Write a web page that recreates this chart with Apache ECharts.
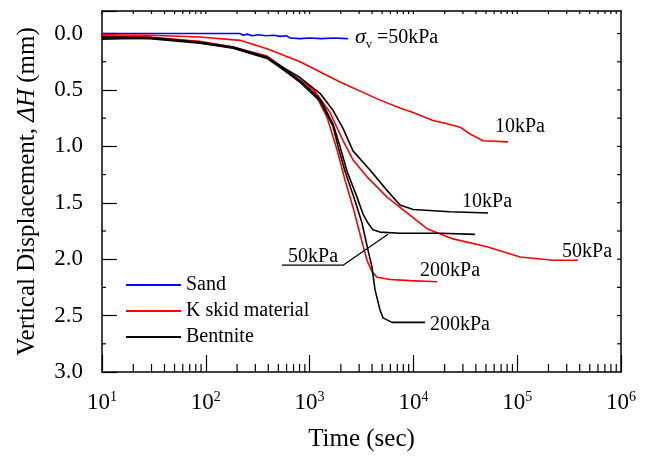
<!DOCTYPE html>
<html>
<head>
<meta charset="utf-8">
<script src="https://cdn.jsdelivr.net/npm/echarts@6/dist/echarts.min.js"></script>
<style>
html, body { margin: 0; padding: 0; background: #fff; }
#chart { width: 653px; height: 458px; }
</style>
</head>
<body>
<div id="chart"></div>
<script>
// time (sec), vertical displacement (mm)
var sand50 = [[10, 0.0], [100, 0.0], [213, 0.0], [230, 0.015], [250, 0.005], [280, 0.02], [320, 0.01],
    [380, 0.02], [450, 0.015], [520, 0.025], [600, 0.02], [650, 0.04], [800, 0.045], [1000, 0.04],
    [1300, 0.045], [1700, 0.04], [2340, 0.045]];

var kskid10 = [[10, 0.01], [29, 0.015], [88, 0.03], [213, 0.06], [389, 0.135], [808, 0.25], [1963, 0.43],
    [3818, 0.55], [4768, 0.59], [7430, 0.66], [9916, 0.70], [15450, 0.77], [21070, 0.80], [28130, 0.83],
    [35080, 0.89], [46830, 0.95], [81500, 0.96]];
var kskid50 = [[10, 0.02], [29, 0.03], [88, 0.07], [183, 0.12], [389, 0.20], [555, 0.30], [808, 0.41],
    [1080, 0.49], [1574, 0.70], [2099, 0.95], [2618, 1.12], [3573, 1.27], [5568, 1.45], [8670, 1.59],
    [13520, 1.73], [24070, 1.82], [51170, 1.89], [106500, 1.98], [221300, 2.01], [385400, 2.01]];
var kskid200 = [[10, 0.03], [29, 0.035], [88, 0.07], [183, 0.12], [389, 0.21], [555, 0.31], [808, 0.43],
    [1080, 0.50], [1470, 0.74], [1838, 1.03], [2194, 1.30], [2618, 1.54], [2926, 1.71], [3269, 1.88],
    [3573, 2.01], [3992, 2.11], [4460, 2.16], [5953, 2.18], [9275, 2.19], [16880, 2.20]];

var bent10 = [[10, 0.03], [29, 0.035], [88, 0.077], [183, 0.12], [389, 0.21], [555, 0.30], [808, 0.39],
    [1260, 0.53], [1680, 0.68], [2099, 0.84], [2618, 1.04], [3818, 1.21], [5568, 1.39], [7430, 1.52],
    [9916, 1.56], [22530, 1.58], [52360, 1.59]];
var bent50 = [[10, 0.05], [29, 0.04], [88, 0.08], [183, 0.125], [389, 0.21], [555, 0.31], [808, 0.42],
    [1260, 0.58], [1680, 0.80], [1963, 1.0], [2293, 1.22], [2862, 1.45], [3269, 1.6], [3653, 1.68],
    [4081, 1.74], [4768, 1.76], [7430, 1.77], [18050, 1.77], [39200, 1.78]];
var bent200 = [[10, 0.04], [29, 0.045], [88, 0.085], [183, 0.13], [389, 0.22], [555, 0.32], [808, 0.43],
    [1260, 0.60], [1680, 0.82], [1880, 1.0], [2194, 1.22], [2735, 1.48], [3198, 1.68], [3653, 1.92],
    [3992, 2.07], [4266, 2.27], [4768, 2.45], [5097, 2.52], [6223, 2.56], [12940, 2.56]];

var leader50 = [[542, 2.053], [2099, 2.053], [5690, 1.779]];

var legendNames = ['Sand', 'K skid material', 'Bentnite'];
var notes = [
    { name: '{s|σ}{v|v} =50kPa', value: [2740, 0.035] },
    { name: '10kPa', value: [61100, 0.823] },
    { name: '10kPa', value: [29400, 1.487] },
    { name: '50kPa', value: [270200, 1.934] },
    { name: '200kPa', value: [11580, 2.10] },
    { name: '200kPa', value: [14450, 2.58] },
    { name: '50kPa', value: [620, 1.98] }
];

var decades = [10, 100, 1000, 10000, 100000];
var steps = [2, 3, 4, 5, 6, 7, 8, 9];
var dispMinor = [0.25, 0.75, 1.25, 1.75, 2.25, 2.75];
var dispAll = [0, 0.25, 0.5, 0.75, 1.0, 1.25, 1.5, 1.75, 2.0, 2.25, 2.5, 2.75];

var font = '"Liberation Serif", "Times New Roman", serif';

// tick marks: [x, y, dx, dy]
var tickData = [];
decades.forEach(function (d) {
    steps.forEach(function (s) {
        tickData.push([d * s, 3.0, 0, -8]);
        tickData.push([d * s, -0.2, 0, 3]);
    });
    tickData.push([d, -0.2, 0, 3]);
});
dispMinor.forEach(function (v) { tickData.push([10, v, 4, 0]); });
dispAll.forEach(function (v) { tickData.push([1000000, v, -4, 0]); });

function lineSeries(name, data, color) {
    return {
        name: name, type: 'line', data: data, symbol: 'none', showSymbol: false,
        lineStyle: { color: color, width: 1.6 }, itemStyle: { color: color }
    };
}

var chart = echarts.init(document.getElementById('chart'));
var option = {
    animation: false,
    grid: { left: 102, right: 32, top: 11, bottom: 86, containLabel: false, outerBoundsMode: 'none' },
    legend: {
        data: legendNames, orient: 'vertical', left: 125, top: 274, padding: 0,
        itemWidth: 55, itemHeight: 14, itemGap: 4,
        itemStyle: { opacity: 0 },
        textStyle: { fontFamily: font, fontSize: 20, color: '#000', lineHeight: 22 }
    },
    xAxis: [{
        type: 'log', logBase: 10, min: 10, max: 1000000, position: 'bottom',
        name: 'Time (sec)', nameLocation: 'middle', nameGap: 55,
        nameTextStyle: { fontFamily: font, fontSize: 25, color: '#000' },
        axisLine: { show: true, onZero: false, lineStyle: { color: '#000', width: 1.5 } },
        axisTick: { show: true, inside: true, length: 17, lineStyle: { color: '#000', width: 1.2 } },
        axisLabel: {
            margin: 18, color: '#000', fontFamily: font, fontSize: 23,
            formatter: function (v) { return '10{sup|' + Math.round(Math.log10(v)) + '}'; },
            rich: { sup: { fontFamily: font, fontSize: 14, color: '#000', padding: [0, 0, 12, 0] } }
        },
        splitLine: { show: false }
    }, {
        type: 'log', logBase: 10, min: 10, max: 1000000, position: 'top',
        axisLine: { show: true, onZero: false, lineStyle: { color: '#000', width: 1.5 } },
        axisTick: { show: false }, axisLabel: { show: false }, splitLine: { show: false }
    }],
    yAxis: [{
        type: 'value', min: -0.2, max: 3.0, inverse: true, splitNumber: 6,
        name: 'Vertical Displacement, {i|ΔH} (mm)', nameLocation: 'middle', nameGap: 62,
        nameTextStyle: {
            fontFamily: font, fontSize: 25, color: '#000',
            rich: { i: { fontFamily: font, fontSize: 25, fontStyle: 'italic', color: '#000' } }
        },
        axisLine: { show: true, onZero: false, lineStyle: { color: '#000', width: 1.5 } },
        axisTick: { show: true, inside: true, length: 15, lineStyle: { color: '#000', width: 1.2 } },
        axisLabel: {
            margin: 19, color: '#000', fontFamily: font, fontSize: 23,
            formatter: function (v) { return v < 0 ? '' : v.toFixed(1); }
        },
        splitLine: { show: false }
    }, {
        type: 'value', min: -0.2, max: 3.0, inverse: true, position: 'right',
        axisLine: { show: true, onZero: false, lineStyle: { color: '#000', width: 1.5 } },
        axisTick: { show: false }, axisLabel: { show: false }, splitLine: { show: false }
    }],
    series: [
        lineSeries('Sand', sand50, '#0000ff'),
        lineSeries('K skid material', kskid10, '#ff0000'),
        lineSeries('K skid material', kskid50, '#ff0000'),
        lineSeries('K skid material', kskid200, '#ff0000'),
        lineSeries('Bentnite', bent10, '#000000'),
        lineSeries('Bentnite', bent50, '#000000'),
        lineSeries('Bentnite', bent200, '#000000'),
        {
            name: 'leader', type: 'line', data: leader50, symbol: 'none',
            lineStyle: { color: '#000', width: 1.3 }
        },
        {
            name: 'notes', type: 'scatter', data: notes, symbolSize: 0,
            itemStyle: { color: '#000' },
            label: {
                show: true, position: 'right', distance: 0,
                fontFamily: font, fontSize: 20, color: '#000', textBorderWidth: 0, opacity: 1,
                formatter: function (p) { return p.name; },
                rich: {
                    s: { fontFamily: font, fontSize: 22, fontStyle: 'italic', color: '#000' },
                    v: { fontFamily: font, fontSize: 12, color: '#000', padding: [14, 0, 0, 0] }
                }
            }
        },
        {
            name: 'ticks', type: 'custom', data: tickData, silent: true, clip: false, z: 10,
            renderItem: function (params, api) {
                var p = api.coord([api.value(0), api.value(1)]);
                return {
                    type: 'line',
                    shape: { x1: p[0], y1: p[1], x2: p[0] + api.value(2), y2: p[1] + api.value(3) },
                    style: { stroke: '#000', lineWidth: 1.2 }
                };
            }
        }
    ]
};
chart.setOption(option);
</script>
</body>
</html>
